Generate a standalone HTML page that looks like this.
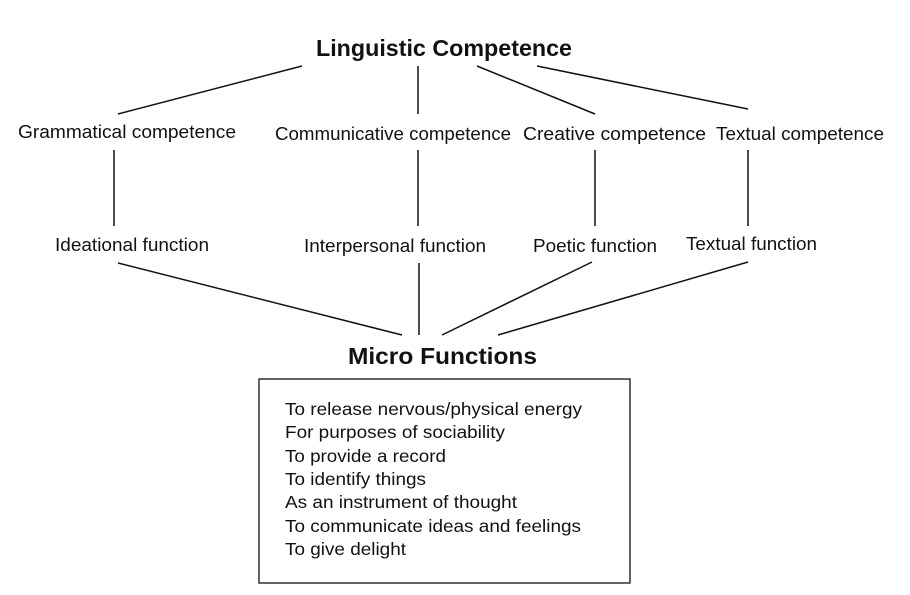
<!DOCTYPE html>
<html><head><meta charset="utf-8"><style>
html,body{margin:0;padding:0;background:#fff;}
svg{display:block;}
text{font-family:"Liberation Sans",Arial,sans-serif;fill:#111;}
</style></head><body>
<svg width="910" height="595" viewBox="0 0 910 595" xmlns="http://www.w3.org/2000/svg">
<g stroke="#111" stroke-width="1.5" fill="none">
<line x1="302" y1="66" x2="118" y2="114"/>
<line x1="418" y1="66" x2="418" y2="114"/>
<line x1="477" y1="66" x2="595" y2="114"/>
<line x1="537" y1="66" x2="748" y2="109"/>
<line x1="114" y1="150" x2="114" y2="226"/>
<line x1="418" y1="150" x2="418" y2="226"/>
<line x1="595" y1="150" x2="595" y2="226"/>
<line x1="748" y1="150" x2="748" y2="226"/>
<line x1="118" y1="263" x2="402" y2="335"/>
<line x1="419" y1="263" x2="419" y2="335"/>
<line x1="592" y1="262" x2="442" y2="335"/>
<line x1="748" y1="262" x2="498" y2="335"/>
<rect x="259" y="379" width="371" height="204" stroke-width="1.3"/>
</g>
<text x="316" y="56" font-size="23" font-weight="bold" textLength="256" lengthAdjust="spacingAndGlyphs">Linguistic Competence</text>
<g font-size="18">
<text x="18" y="138" textLength="218" lengthAdjust="spacingAndGlyphs">Grammatical competence</text>
<text x="275" y="140" textLength="236" lengthAdjust="spacingAndGlyphs">Communicative competence</text>
<text x="523" y="140" textLength="183" lengthAdjust="spacingAndGlyphs">Creative competence</text>
<text x="716" y="140" textLength="168" lengthAdjust="spacingAndGlyphs">Textual competence</text>
<text x="55" y="251" textLength="154" lengthAdjust="spacingAndGlyphs">Ideational function</text>
<text x="304" y="252" textLength="182" lengthAdjust="spacingAndGlyphs">Interpersonal function</text>
<text x="533" y="252" textLength="124" lengthAdjust="spacingAndGlyphs">Poetic function</text>
<text x="686" y="250" textLength="131" lengthAdjust="spacingAndGlyphs">Textual function</text>
</g>
<text x="348" y="364" font-size="23" font-weight="bold" textLength="189" lengthAdjust="spacingAndGlyphs">Micro Functions</text>
<g font-size="17.5">
<text x="285" y="415" textLength="297" lengthAdjust="spacingAndGlyphs">To release nervous/physical energy</text>
<text x="285" y="438" textLength="220" lengthAdjust="spacingAndGlyphs">For purposes of sociability</text>
<text x="285" y="462" textLength="161" lengthAdjust="spacingAndGlyphs">To provide a record</text>
<text x="285" y="485" textLength="141" lengthAdjust="spacingAndGlyphs">To identify things</text>
<text x="285" y="508" textLength="232" lengthAdjust="spacingAndGlyphs">As an instrument of thought</text>
<text x="285" y="532" textLength="296" lengthAdjust="spacingAndGlyphs">To communicate ideas and feelings</text>
<text x="285" y="555" textLength="121" lengthAdjust="spacingAndGlyphs">To give delight</text>
</g>
</svg>
</body></html>
